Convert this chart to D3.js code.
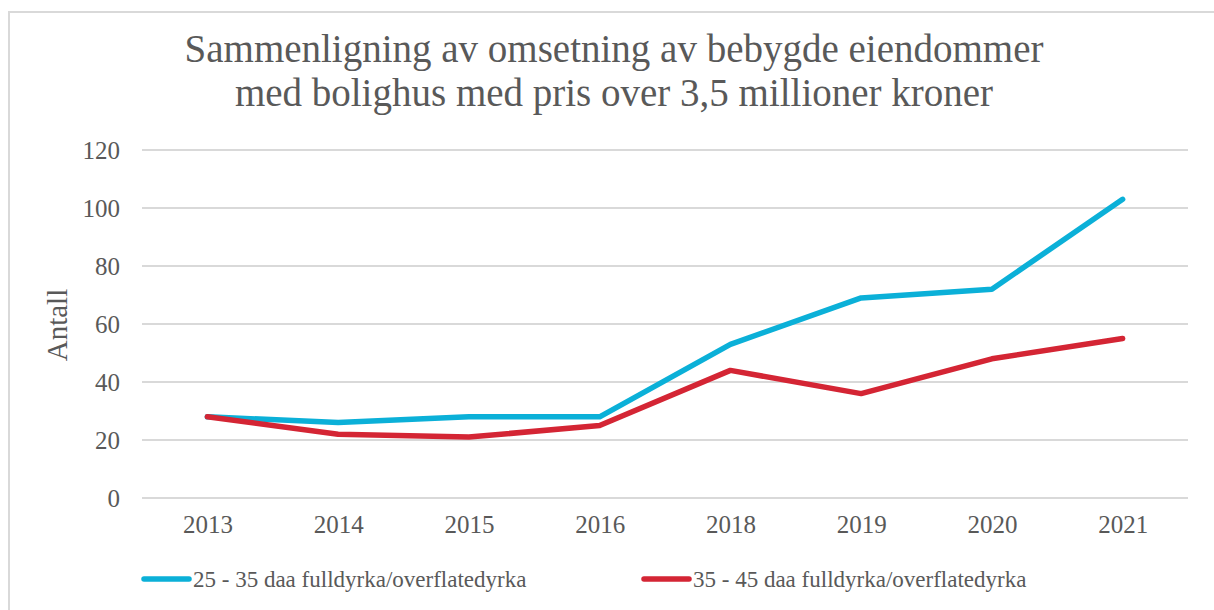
<!DOCTYPE html>
<html>
<head>
<meta charset="utf-8">
<script src="https://cdn.jsdelivr.net/npm/d3@7"></script>
<style>
   body { margin: 0; background: #fff; }
</style>
</head>
<body>
<div id="chart"></div>
<script>
// Data
const years = ["2013", "2014", "2015", "2016", "2018", "2019", "2020", "2021"]
const small = [28, 26, 28, 28, 53, 69, 72, 103]  // 25 - 35 daa
const large = [28, 22, 21, 25, 44, 36, 48, 55]   // 35 - 45 daa
const seriesNames = ["25 - 35 daa fulldyrka/overflatedyrka", "35 - 45 daa fulldyrka/overflatedyrka"]
const yTicks = [0, 20, 40, 60, 80, 100, 120]
const titleLines = ["Sammenligning av omsetning av bebygde eiendommer", "med bolighus med pris over 3,5 millioner kroner"]

const colors = ["#0bb0d8", "#d42534"]
const textColor = "#595959"
const fontFamily = "'Liberation Serif'"

const width = 1214, height = 610
const plot = {left: 142, right: 1188, top: 150, bottom: 498}

const svg = d3.select("#chart").append("svg")
   .attr("width", width)
   .attr("height", height)

// Outer border
svg.append("rect")
   .attr("x", 9).attr("y", 12)
   .attr("width", 1220).attr("height", 620)
   .attr("fill", "none")
   .attr("stroke", "#d9d9d9")
   .attr("stroke-width", 2)

// Title (one text, two lines)
const title = svg.append("text")
   .attr("class", "title")
   .attr("y", 62)
   .attr("text-anchor", "middle")
   .attr("fill", textColor)
   .style("font-family", fontFamily)
   .style("font-size", "39px")

title.selectAll("tspan").data(titleLines).enter().append("tspan")
   .attr("x", 614)
   .attr("dy", (d, i) => i == 0 ? 0 : 43.5)
   .text(d => d)

const x = d3.scalePoint().domain(years).range([plot.left, plot.right]).padding(0.5)
const y = d3.scaleLinear().domain([0, 120]).range([plot.bottom, plot.top])

// Gridlines
svg.selectAll("line.grid").data(yTicks).enter().append("line")
   .attr("class", "grid")
   .attr("x1", plot.left).attr("x2", plot.right)
   .attr("y1", d => y(d)).attr("y2", d => y(d))
   .attr("stroke", "#d9d9d9")
   .attr("stroke-width", 2)

// Y axis labels
const yAxis = svg.append("g")
   .attr("transform", "translate(" + (plot.left - 22) + ",0)")
   .call(d3.axisLeft(y).tickValues(yTicks).tickSize(0).tickPadding(0))
yAxis.select(".domain").remove()
yAxis.attr("font-family", null)
yAxis.selectAll("text")
   .attr("fill", textColor)
   .attr("dy", "0.35em")
   .style("font-family", fontFamily)
   .style("font-size", "25px")

// X axis labels
const xAxis = svg.append("g")
   .attr("transform", "translate(0," + plot.bottom + ")")
   .call(d3.axisBottom(x).tickSize(0).tickPadding(0))
xAxis.select(".domain").remove()
xAxis.attr("font-family", null)
xAxis.selectAll("text")
   .attr("fill", textColor)
   .attr("y", 35)
   .attr("dy", 0)
   .style("font-family", fontFamily)
   .style("font-size", "25px")

// Y axis title
svg.append("text")
   .attr("transform", "translate(67,325) rotate(-90)")
   .attr("text-anchor", "middle")
   .attr("fill", textColor)
   .style("font-family", fontFamily)
   .style("font-size", "29px")
   .text("Antall")

// Lines
const line = d3.line()
   .x((d, i) => x(years[i]))
   .y(d => y(d))

svg.selectAll("path.series").data([small, large]).enter().append("path")
   .attr("class", "series")
   .attr("d", line)
   .attr("fill", "none")
   .attr("stroke", (d, i) => colors[i])
   .attr("stroke-width", 5.5)
   .attr("stroke-linejoin", "round")
   .attr("stroke-linecap", "round")

// Legend
const legendX = [142, 642]
const legend = svg.selectAll("g.legend").data(seriesNames).enter().append("g")
   .attr("class", "legend")
   .attr("transform", (d, i) => "translate(" + legendX[i] + ",579)")

legend.append("line")
   .attr("x1", 2).attr("x2", 47)
   .attr("y1", 0).attr("y2", 0)
   .attr("stroke", (d, i) => colors[i])
   .attr("stroke-width", 5.5)
   .attr("stroke-linecap", "round")

legend.append("text")
   .attr("x", 51)
   .attr("y", 8)
   .attr("fill", textColor)
   .style("font-family", fontFamily)
   .style("font-size", "23px")
   .text(d => d)
</script>
</body>
</html>
